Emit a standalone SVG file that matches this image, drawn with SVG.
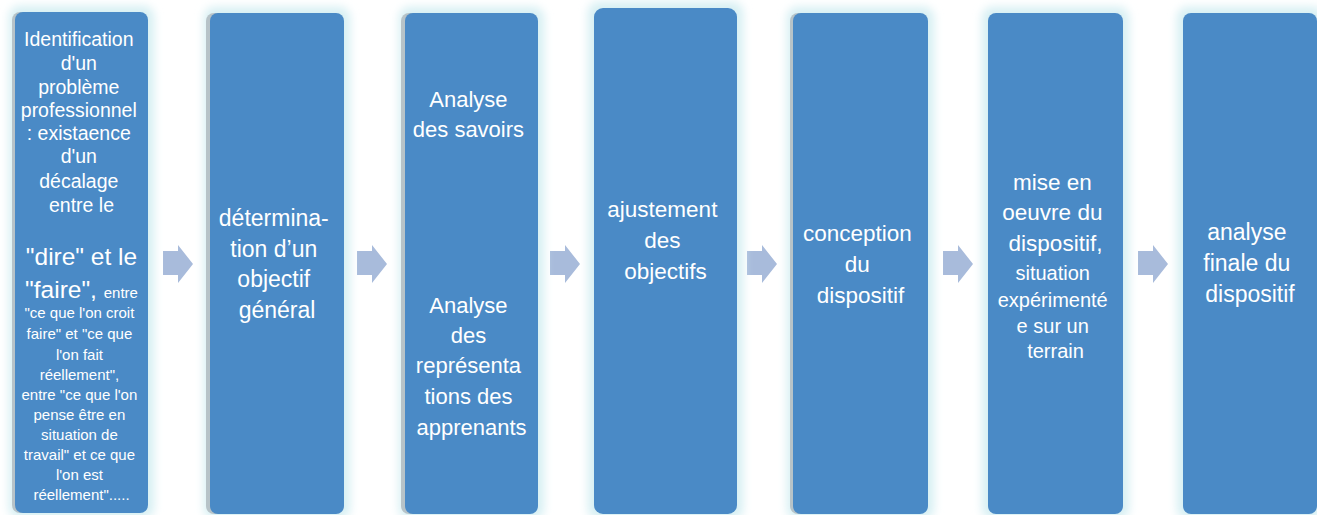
<svg xmlns="http://www.w3.org/2000/svg" width="1317" height="515" viewBox="0 0 1317 515">
<defs>
<filter id="glow" x="-20%" y="-5%" width="140%" height="110%"><feGaussianBlur stdDeviation="5"/></filter>
<path id="arr" d="M0,251 H15 V245 L30,264 L15,283 V275 H0 Z"/>
<style>
.glow{fill:#d6eff3;filter:url(#glow)}
.edge{fill:#b7c3c8}
.box{fill:#4a8ac6}
.arrow{fill:#a8bbdb}
text{font-family:"Liberation Sans",Arial,sans-serif;fill:#ffffff;text-anchor:middle}
.s{font-size:15px}
</style>
</defs>
<rect width="1317" height="515" fill="#ffffff"/>
<g id="connectors" class="arrow">
<use href="#arr" x="163"/>
<use href="#arr" x="357"/>
<use href="#arr" x="550"/>
<use href="#arr" x="747"/>
<use href="#arr" x="943"/>
<use href="#arr" x="1138"/>
</g>
<g id="node1">
<rect class="glow" x="9" y="6" width="145" height="512" rx="10"/>
<rect class="edge" x="12" y="12" width="133" height="501" rx="8"/>
<rect class="box" x="15" y="12" width="133" height="501" rx="8"/>
<text x="81.5" style="font-size:19.5px">
<tspan x="81.5" y="46">Identification</tspan>
<tspan x="81.5" y="70">d'un</tspan>
<tspan x="81.5" y="93.5">problème</tspan>
<tspan x="81.5" y="117">professionnel</tspan>
<tspan x="81.5" y="140">: existaence</tspan>
<tspan x="81.5" y="163">d'un</tspan>
<tspan x="81.5" y="188">décalage</tspan>
<tspan x="81.5" y="212">entre le</tspan>
</text>
<text x="81.5" y="265" style="font-size:24.5px">"dire" et le</text>
<text x="81.5" y="298" style="font-size:24.5px">"faire", <tspan style="font-size:15px">entre</tspan></text>
<text class="s" x="81.5">
<tspan x="81.5" y="318">"ce que l'on croit</tspan>
<tspan x="81.5" y="339">faire" et "ce que</tspan>
<tspan x="81.5" y="360">l'on fait</tspan>
<tspan x="81.5" y="380">réellement",</tspan>
<tspan x="81.5" y="400">entre "ce que l'on</tspan>
<tspan x="81.5" y="420">pense être en</tspan>
<tspan x="81.5" y="440">situation de</tspan>
<tspan x="81.5" y="460">travail" et ce que</tspan>
<tspan x="81.5" y="480">l'on est</tspan>
<tspan x="81.5" y="500">réellement".....</tspan>
</text>
</g>
<g id="node2">
<rect class="glow" x="204" y="7" width="146" height="512" rx="10"/>
<rect class="edge" x="206" y="13" width="134" height="501" rx="8"/>
<rect class="box" x="210" y="13" width="134" height="501" rx="8"/>
<text style="font-size:23px">
<tspan x="277" y="226">détermina-</tspan>
<tspan x="277" y="257">tion d’un</tspan>
<tspan x="277" y="287">objectif</tspan>
<tspan x="277" y="318">général</tspan>
</text>
</g>
<g id="node3">
<rect class="glow" x="399" y="7" width="145" height="512" rx="10"/>
<rect class="edge" x="401" y="13" width="133" height="501" rx="8"/>
<rect class="box" x="405" y="13" width="133" height="501" rx="8"/>
<text style="font-size:22px">
<tspan x="471.5" y="107">Analyse</tspan>
<tspan x="471.5" y="137">des savoirs</tspan>
<tspan x="471.5" y="313">Analyse</tspan>
<tspan x="471.5" y="343">des</tspan>
<tspan x="471.5" y="373">représenta</tspan>
<tspan x="471.5" y="404">tions des</tspan>
<tspan x="471.5" y="435">apprenants</tspan>
</text>
</g>
<g id="node4">
<rect class="glow" x="588" y="2" width="155" height="517" rx="10"/>
<rect class="box" x="594" y="8" width="143" height="506" rx="9"/>
<text style="font-size:22.5px">
<tspan x="665.5" y="217">ajustement</tspan>
<tspan x="665.5" y="248">des</tspan>
<tspan x="665.5" y="279">objectifs</tspan>
</text>
</g>
<g id="node5">
<rect class="glow" x="787" y="7" width="147" height="512" rx="10"/>
<rect class="edge" x="790" y="13" width="135" height="501" rx="8"/>
<rect class="box" x="793" y="13" width="135" height="501" rx="8"/>
<text style="font-size:22.5px">
<tspan x="860.5" y="241">conception</tspan>
<tspan x="860.5" y="272">du</tspan>
<tspan x="860.5" y="303">dispositif</tspan>
</text>
</g>
<g id="node6">
<rect class="glow" x="982" y="7" width="147" height="512" rx="10"/>
<rect class="box" x="988" y="13" width="135" height="501" rx="8"/>
<text style="font-size:22.5px">
<tspan x="1055.5" y="190">mise en</tspan>
<tspan x="1055.5" y="220">oeuvre du</tspan>
<tspan x="1055.5" y="251">dispositif,</tspan>
</text>
<text style="font-size:20px">
<tspan x="1055.5" y="280">situation</tspan>
<tspan x="1055.5" y="307">expérimenté</tspan>
<tspan x="1055.5" y="333">e sur un</tspan>
<tspan x="1055.5" y="358">terrain</tspan>
</text>
</g>
<g id="node7">
<rect class="glow" x="1177" y="7" width="146" height="512" rx="10"/>
<rect class="box" x="1183" y="13" width="134" height="501" rx="8"/>
<text style="font-size:23px">
<tspan x="1250" y="240">analyse</tspan>
<tspan x="1250" y="271">finale du</tspan>
<tspan x="1250" y="302">dispositif</tspan>
</text>
</g>
</svg>
